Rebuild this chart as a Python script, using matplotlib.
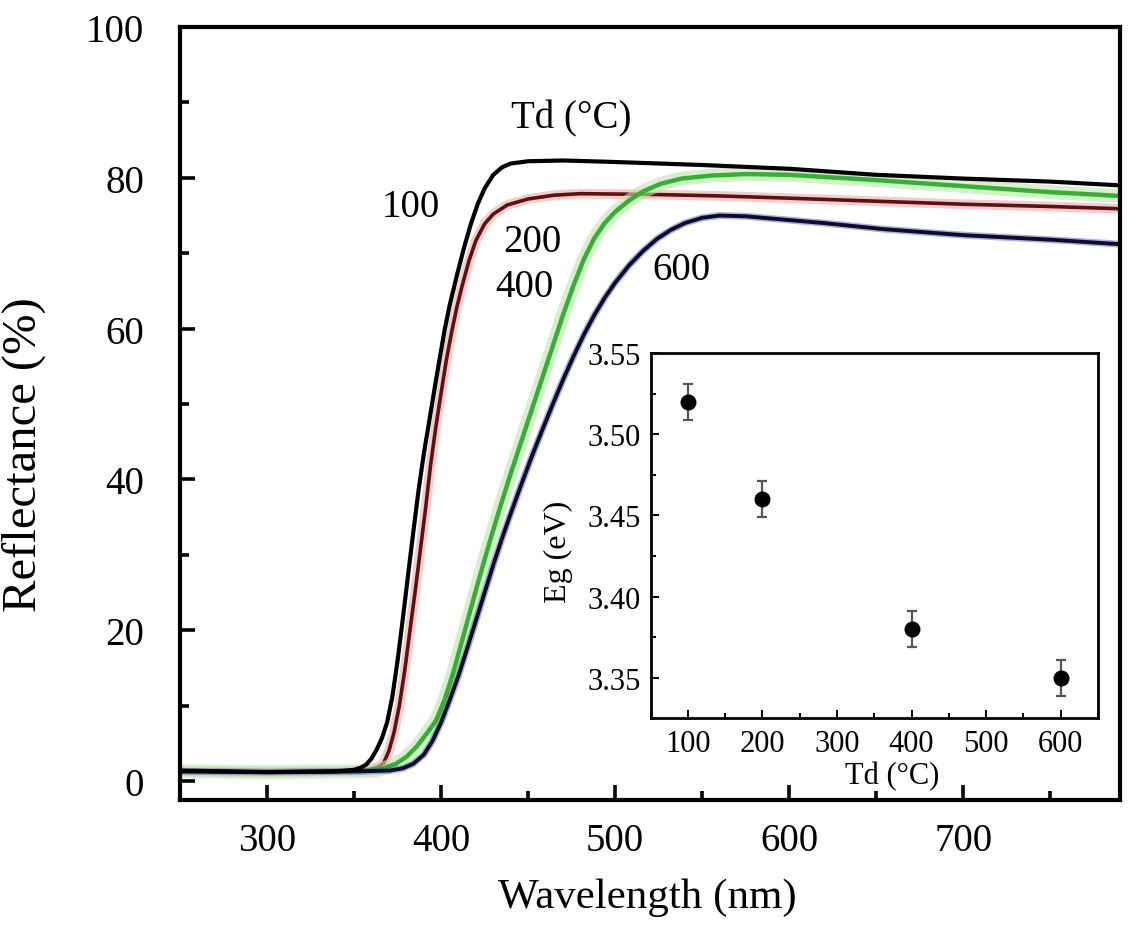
import matplotlib
matplotlib.use("Agg")
import matplotlib.pyplot as plt
from matplotlib.ticker import MultipleLocator, FormatStrFormatter

plt.rcParams["font.family"] = ["Liberation Serif", "DejaVu Serif"]

# 반사율 스펙트럼 (Td = 100, 200, 400, 600 C)
wl_100 = [250, 300, 340, 350, 354, 357, 360, 363, 366, 369, 372, 375, 378, 381, 384, 387, 390,
          393, 396, 399, 402, 405, 409, 413, 417, 421, 425, 430, 435, 440, 450, 470, 500,
          550, 600, 650, 700, 750, 790]
r_100 = [1.4, 1.2, 1.3, 1.5, 1.8, 2.2, 3.0, 4.2, 5.7, 7.8, 11.2, 16.0, 21.5, 27.3, 33.0, 38.5, 43.3,
         47.5, 51.7, 55.8, 59.8, 63.2, 67.0, 70.6, 73.8, 76.5, 78.6, 80.4, 81.4, 81.9, 82.2, 82.3, 82.1,
         81.7, 81.2, 80.4, 79.9, 79.5, 79.0]

wl_200 = [250, 300, 340, 355, 360, 364, 367, 370, 373, 376, 379, 382, 385, 388, 391, 394, 397,
          400, 403, 406, 409, 412, 416, 420, 425, 430, 438, 450, 465, 480, 520, 560, 600,
          650, 700, 750, 790]
r_200 = [1.3, 1.2, 1.3, 1.4, 1.6, 1.9, 2.4, 4.0, 6.5, 10.0, 14.5, 19.8, 25.0, 30.5, 36.0, 42.0, 47.0,
         51.5, 55.8, 59.5, 62.8, 65.6, 69.0, 71.7, 73.9, 75.2, 76.4, 77.2, 77.7, 77.9, 77.8, 77.6, 77.3,
         76.9, 76.5, 76.2, 75.9]

wl_400 = [250, 300, 350, 362, 368, 374, 380, 386, 392, 397, 402, 407, 412, 417, 422, 428, 434,
          440, 446, 452, 458, 464, 470, 476, 482, 488, 494, 500, 508, 516, 526, 538, 555,
          575, 600, 650, 700, 750, 790]
r_400 = [1.3, 1.2, 1.3, 1.4, 1.8, 2.3, 3.2, 4.6, 6.4, 8.0, 10.8, 14.4, 18.6, 22.8, 27.0, 31.8, 36.4,
         40.8, 45.0, 49.2, 53.4, 57.6, 61.8, 65.7, 69.2, 72.0, 74.0, 75.5, 77.0, 78.2, 79.2, 79.9, 80.3,
         80.5, 80.4, 79.7, 78.9, 78.1, 77.6]

wl_600 = [250, 300, 350, 370, 378, 384, 390, 395, 400, 405, 410, 415, 420, 425, 430, 435, 440,
          446, 452, 458, 464, 470, 476, 482, 488, 494, 500, 508, 516, 524, 532, 540, 550,
          560, 575, 590, 620, 654, 700, 750, 790]
r_600 = [1.3, 1.2, 1.3, 1.4, 1.7, 2.3, 3.5, 5.3, 7.8, 10.8, 14.0, 17.6, 21.3, 25.0, 28.7, 32.2, 35.5,
         39.3, 43.0, 46.5, 49.9, 53.2, 56.3, 59.2, 61.8, 64.1, 66.1, 68.4, 70.3, 71.9, 73.1, 74.0, 74.7,
         75.0, 74.9, 74.6, 74.0, 73.2, 72.4, 71.8, 71.2]

# 인셋: 밴드갭
td = [100, 200, 400, 600]
eg = [3.52, 3.46, 3.38, 3.35]
eg_err = [0.011, 0.011, 0.011, 0.011]

fig = plt.figure(figsize=(11.3, 9.29), dpi=100)
ax = fig.add_axes([180 / 1130, 1 - 801 / 929, 940 / 1130, 773 / 929])

# 곡선 (번진 색 효과 + 중심선)
ax.plot(wl_200, r_200, color="#f28a8a", lw=7, alpha=0.45, solid_capstyle="butt")
ax.plot(wl_200, r_200, color="#5a1212", lw=2.6)
ax.plot(wl_400, r_400, color="#b8e8ab", lw=10, alpha=0.6, solid_capstyle="butt")
ax.plot(wl_400, r_400, color="#35b035", lw=3.2)
ax.plot(wl_600, r_600, color="#5050c0", lw=5, alpha=0.45, solid_capstyle="butt")
ax.plot(wl_600, r_600, color="#0c0c2c", lw=2.8)
ax.plot(wl_100, r_100, color="black", lw=3.0)

ax.set_xlim(250, 790)
ax.set_ylim(-2.5, 100)
ax.xaxis.set_major_locator(MultipleLocator(100))
ax.xaxis.set_minor_locator(MultipleLocator(50))
ax.yaxis.set_major_locator(MultipleLocator(20))
ax.yaxis.set_minor_locator(MultipleLocator(10))
ax.tick_params(which="both", direction="in", top=False, right=False, width=2.6)
ax.tick_params(which="major", length=11)
ax.tick_params(which="minor", length=6.5)
ax.tick_params(axis="x", which="major", labelsize=28, pad=16)
ax.tick_params(axis="y", which="major", labelsize=28, pad=26)
for s in ax.spines.values():
    s.set_linewidth(3)

ax.set_xlabel("Wavelength (nm)", fontsize=31)
ax.set_ylabel("Reflectance (%)", fontsize=35)
ax.xaxis.set_label_coords(0.497, -0.100)
ax.yaxis.set_label_coords(-0.143, 0.448)

ax.text(474.7, 88.0, "Td (°C)", fontsize=28, ha="center", va="center")
ax.text(382.8, 76.2, "100", fontsize=28, ha="center", va="center")
ax.text(452.3, 71.6, "200", fontsize=28, ha="center", va="center")
ax.text(447.7, 65.6, "400", fontsize=28, ha="center", va="center")
ax.text(538.0, 67.8, "600", fontsize=28, ha="center", va="center")

# 인셋 그래프
ins = fig.add_axes([650.6 / 1130, 1 - 719.3 / 929, 447.4 / 1130, 365.3 / 929])
ins.errorbar(td, eg, yerr=eg_err, fmt="o", color="black", ms=10.5,
             ecolor="#555555", elinewidth=1.6, capsize=3.5, capthick=1.6)
ins.set_xlim(50, 650)
ins.set_ylim(3.325, 3.55)
ins.xaxis.set_major_locator(MultipleLocator(100))
ins.xaxis.set_minor_locator(MultipleLocator(50))
ins.yaxis.set_major_locator(MultipleLocator(0.05))
ins.yaxis.set_minor_locator(MultipleLocator(0.025))
ins.yaxis.set_major_formatter(FormatStrFormatter("%.2f"))
ins.tick_params(which="both", direction="in", top=False, right=False, width=1.4)
ins.tick_params(which="major", length=6, labelsize=22)
ins.tick_params(which="minor", length=3.5)
ins.tick_params(axis="x", pad=8)
ins.tick_params(axis="y", pad=7)
for s in ins.spines.values():
    s.set_linewidth(2)
ins.set_xlabel("Td (°C)", fontsize=22)
ins.set_ylabel("Eg (eV)", fontsize=23)
ins.xaxis.set_label_coords(0.54, -0.117)
ins.yaxis.set_label_coords(-0.173, 0.458)

fig.savefig("out.png", dpi=100)
